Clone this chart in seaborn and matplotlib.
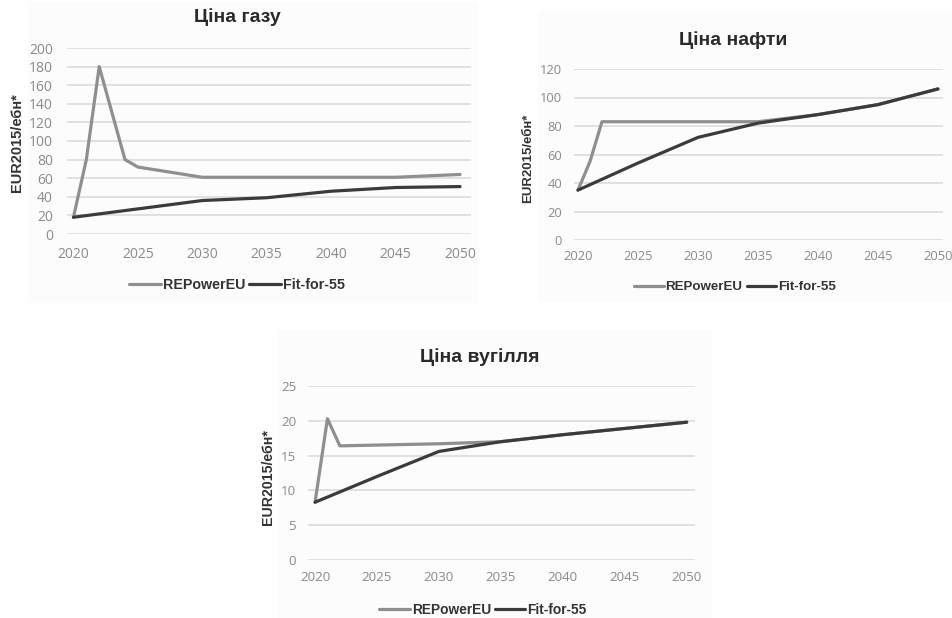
import matplotlib
matplotlib.use("Agg")
import matplotlib.pyplot as plt
import seaborn as sns
import pandas as pd
from matplotlib.patches import Rectangle

# ---------------- data ----------------
series_names = ["REPowerEU", "Fit-for-55"]
x_ticks = [2020, 2025, 2030, 2035, 2040, 2045, 2050]

gas_rep_years = [2020, 2021, 2022, 2024, 2025, 2030, 2035, 2040, 2045, 2050]
gas_rep_vals = [18, 80, 180, 80, 72, 61, 61, 61, 61, 64]
gas_fit_years = [2020, 2025, 2030, 2035, 2040, 2045, 2050]
gas_fit_vals = [18, 27, 36, 39, 46, 50, 51]

oil_rep_years = [2020, 2021, 2022, 2030, 2035, 2040, 2045, 2050]
oil_rep_vals = [35, 55, 83, 83, 83, 88, 95, 106]
oil_fit_years = [2020, 2025, 2030, 2035, 2040, 2045, 2050]
oil_fit_vals = [35, 54, 72, 82, 88, 95, 106]

coal_rep_years = [2020, 2021, 2022, 2030, 2035, 2040, 2045, 2050]
coal_rep_vals = [8.3, 20.3, 16.4, 16.7, 17.0, 18.0, 18.9, 19.8]
coal_fit_years = [2020, 2025, 2030, 2035, 2040, 2045, 2050]
coal_fit_vals = [8.3, 12.0, 15.6, 17.0, 18.0, 18.9, 19.8]

titles = ["Ціна газу", "Ціна нафти", "Ціна вугілля"]
ylabel = "EUR2015/ебн*"

# ---------------- style ----------------
sns.set_style("white")
plt.rcParams["font.family"] = ["Liberation Sans", "DejaVu Sans"]

W, H = 952, 618
fig = plt.figure(figsize=(W / 100, H / 100), dpi=100)
fig.patch.set_facecolor("white")

palette = {"REPowerEU": "#8f8f8f", "Fit-for-55": "#3b3b3b"}
grid_c = "#dadada"
tick_c = "#8a8a8a"
text_c = "#333333"


def px_rect(x0, y0, x1, y1):
    return [x0 / W, 1 - y1 / H, (x1 - x0) / W, (y1 - y0) / H]


def make_df(ry, rv, fy, fv):
    return pd.DataFrame({
        "year": list(ry) + list(fy),
        "value": list(rv) + list(fv),
        "scenario": [series_names[0]] * len(ry) + [series_names[1]] * len(fy),
    })


panels = [
    dict(df=make_df(gas_rep_years, gas_rep_vals, gas_fit_years, gas_fit_vals),
         rect=(67, 48, 471, 234), xlim=(2019.53, 2050.85), ylim=(0, 200), ystep=20,
         bg=(28, 2, 478, 303), title=titles[0], title_xy=(237, 17),
         ylab_xy=(17, 143), leg_xy=(237, 285), xpad=9, ypad=10, ticks=True,
         fs=10, legfs=10.3, ylfs=10.5),
    dict(df=make_df(oil_rep_years, oil_rep_vals, oil_fit_years, oil_fit_vals),
         rect=(574, 69, 943, 240), xlim=(2019.67, 2050.42), ylim=(0, 120), ystep=20,
         bg=(538, 12, 952, 302), title=titles[1], title_xy=(733, 40),
         ylab_xy=(528, 158), leg_xy=(735, 287), xpad=7.5, ypad=8.5, ticks=False,
         fs=9.3, legfs=9.6, ylfs=9.5),
    dict(df=make_df(coal_rep_years, coal_rep_vals, coal_fit_years, coal_fit_vals),
         rect=(308, 386, 695, 560), xlim=(2019.43, 2050.67), ylim=(0, 25), ystep=5,
         bg=(277, 330, 712, 618), title=titles[2], title_xy=(480, 357),
         ylab_xy=(268, 477), leg_xy=(483, 610), xpad=8, ypad=8.5, ticks=False,
         fs=9.6, legfs=9.9, ylfs=10.2),
]

for p in panels:
    bx0, by0, bx1, by1 = p["bg"]
    fig.patches.append(Rectangle((bx0 / W, 1 - by1 / H), (bx1 - bx0) / W, (by1 - by0) / H,
                                 transform=fig.transFigure, facecolor="#fcfcfc",
                                 edgecolor="none", zorder=-5))

    ax = fig.add_axes(px_rect(*p["rect"]))
    ax.set_facecolor("none")
    sns.lineplot(data=p["df"], x="year", y="value", hue="scenario",
                 hue_order=series_names, palette=palette, linewidth=2.3,
                 ax=ax, legend=True, zorder=3)
    handles, labels = ax.get_legend_handles_labels()
    ax.get_legend().remove()

    ax.set_xlim(*p["xlim"])
    ax.set_ylim(*p["ylim"])
    ax.set_xticks(x_ticks)
    ax.set_xticklabels([str(t) for t in x_ticks])
    ax.set_yticks(list(range(p["ylim"][0], p["ylim"][1] + 1, p["ystep"])))
    ax.grid(axis="y", color=grid_c, linewidth=1.1)
    ax.grid(axis="x", visible=False)
    for s in ax.spines.values():
        s.set_visible(False)
    ax.set_xlabel("")
    ax.set_ylabel("")
    ax.tick_params(axis="x", length=0, pad=p["xpad"], labelsize=p["fs"], labelcolor=tick_c)
    ax.tick_params(axis="y", length=0, pad=p["ypad"], labelsize=p["fs"], labelcolor=tick_c)
    for lab in ax.get_xticklabels() + ax.get_yticklabels():
        lab.set_family(["Open Sans", "DejaVu Sans"])
    if p["ticks"]:
        ax.set_xticks([t - 0.5 for t in x_ticks] + [2050.5], minor=True)
        ax.tick_params(axis="x", which="minor", length=4, width=1, color=grid_c,
                       direction="out")

    tx, ty = p["title_xy"]
    fig.text(tx / W, 1 - ty / H, p["title"], ha="center", va="center",
             fontsize=14, fontweight="bold", color="#2a2a2a")
    lx, ly = p["ylab_xy"]
    fig.text(lx / W, 1 - ly / H, ylabel, ha="center", va="center", rotation=90,
             fontsize=p["ylfs"], fontweight="bold", color=text_c)
    gx, gy = p["leg_xy"]
    fig.legend(handles, labels, loc="center", bbox_to_anchor=(gx / W, 1 - gy / H),
               ncol=2, frameon=False, handlelength=2.2, handletextpad=0.15,
               columnspacing=0.3, prop={"size": p["legfs"], "weight": "bold"},
               labelcolor=text_c)

fig.savefig("out.png", dpi=100, facecolor="white")
